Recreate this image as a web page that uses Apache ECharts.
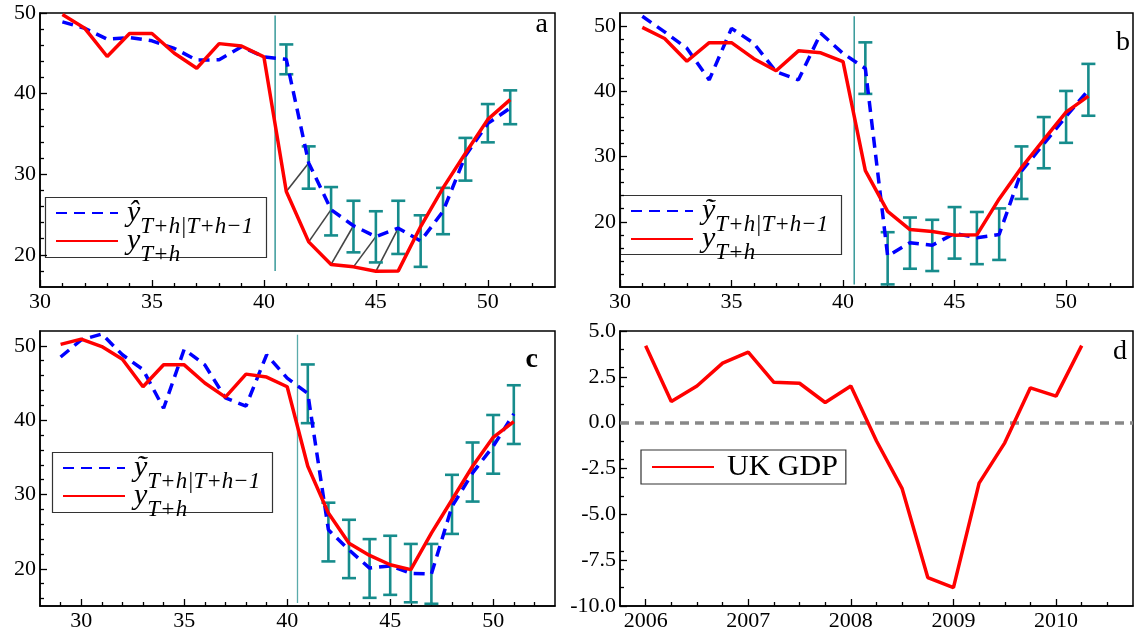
<!DOCTYPE html>
<html><head><meta charset="utf-8">
<script src="https://cdn.jsdelivr.net/npm/echarts@6/dist/echarts.min.js"></script>
<style>html,body{margin:0;padding:0;background:#fff}#c{width:1137px;height:637px}</style>
</head><body><div id="c"></div>
<script>
// ---------- data ----------
const xAB = [31,32,33,34,35,36,37,38,39,40,41,42,43,44,45,46,47,48,49,50,51];
const actualAB = [49.8,48.1,44.6,47.45,47.45,45.0,43.15,46.2,45.9,44.55,27.85,21.6,18.8,18.5,17.95,18.0,23.5,28.3,32.6,36.8,39.25];
const forecastA = [48.9,48.1,46.75,46.95,46.55,45.6,44.15,44.2,45.8,44.55,44.25,31.4,25.6,23.6,22.25,23.3,21.7,25.4,32.3,36.3,38.2];
const forecastB = [51.5,49.1,46.6,41.75,49.65,47.35,43.0,41.75,48.9,45.8,43.5,14.75,16.8,16.4,18.2,17.55,18.05,27.75,31.95,36.15,40.2];

const xC = [29,30,31,32,33,34,35,36,37,38,39,40,41,42,43,44,45,46,47,48,49,50,51];
const actualC = [50.2,50.9,49.9,48.2,44.5,47.45,47.45,45.0,43.1,46.2,45.8,44.5,33.8,27.5,23.45,21.8,20.55,19.9,24.8,29.3,33.8,37.7,39.8];
const forecastC = [48.5,50.8,51.6,48.8,46.8,41.6,49.55,47.45,43.0,41.9,48.8,45.65,43.6,25.25,22.55,20.1,20.4,19.4,19.3,28.4,32.9,36.5,40.85];

const errX = [41,42,43,44,45,46,47,48,49,50,51];
const errLowA  = [42.4,28.2,22.4,20.3,19.05,20.1,18.5,22.55,29.2,33.95,36.2];
const errHighA = [46.1,33.45,28.4,26.7,25.4,26.7,24.9,28.3,34.5,38.7,40.4];
const errLowB  = [39.6,10.4,12.8,12.45,14.35,13.5,14.15,23.5,28.2,32.1,36.25];
const errHighB = [47.5,18.4,20.65,20.3,22.25,21.5,22.05,31.55,36.05,40.05,44.2];
const errLowC  = [39.6,21.0,18.75,16.1,16.5,15.5,15.3,24.7,29.05,32.8,36.8];
const errHighC = [47.5,28.9,26.6,24.0,24.45,23.35,23.35,32.65,37.0,40.7,44.7];

// origin of the forecast period and the extent of its marker line
const originX = 40.5;
const vlineA = [18.0, 49.7];
const vlineB = [10.4, 51.5];
const vlineC = [15.4, 51.5];
// segments joining y(T+h) to the next forecast in panel a
const segStartA = [41,42,43,44,45];

const gdpX = [2006,2006.25,2006.5,2006.75,2007,2007.25,2007.5,2007.75,2008,2008.25,2008.5,2008.75,2009,2009.25,2009.5,2009.75,2010,2010.25];
const gdp = [4.2,1.15,2.0,3.25,3.85,2.2,2.15,1.1,2.0,-1.0,-3.6,-8.45,-9.0,-3.3,-1.1,1.9,1.45,4.2];

// tick labels
const xLabelsAB = [30,35,40,45,50];
const xLabelsC = [30,35,40,45,50];
const yLabelsABC = [20,30,40,50];
const xLabelsD = [2006,2007,2008,2009,2010];
const yLabelsD = [-10,-7.5,-5,-2.5,0,2.5,5];

// ---------- style ----------
const FONT = 'Liberation Serif';
const BLUE = '#0000ff', RED = '#ff0000', TEAL = '#168c8c', GRAY = '#444444';
const NAME_HAT = 'ŷ T+h|T+h−1', NAME_TIL = 'ỹ T+h|T+h−1', NAME_Y = 'y T+h', NAME_GDP = 'UK GDP';

function steps(a, b, s) { const r = []; for (let v = a; v <= b + 1e-9; v += s) r.push(+v.toFixed(4)); return r; }
function minus(arr, ex) { return arr.filter(v => !ex.some(e => Math.abs(e - v) < 1e-9)); }

const grids = [
  {left:40, top:13, width:515, height:274},
  {left:620, top:13, width:513, height:274},
  {left:40, top:331, width:515, height:275},
  {left:620, top:331, width:513, height:275}
].map(g => Object.assign(g, {show:true, borderColor:'#000', borderWidth:1.5, backgroundColor:'transparent'}));

const xAxes = [], yAxes = [];
function addAxes(gi, xr, xlab, xminor, yr, ylab, yminor, yfmt) {
  const common = {gridIndex:gi, type:'value', splitLine:{show:false}};
  xAxes.push(Object.assign({}, common, {min:xr[0], max:xr[1], position:'bottom',
    axisLine:{onZero:false, lineStyle:{color:'#000', width:1.5}},
    axisTick:{inside:true, length:7, customValues:xlab, lineStyle:{color:'#000', width:1.3}},
    axisLabel:{customValues:xlab, fontFamily:FONT, fontSize:22, color:'#000', margin:4, formatter: v => String(v)}}));
  xAxes.push(Object.assign({}, common, {min:xr[0], max:xr[1], position:'bottom',
    axisLine:{show:false, onZero:false},
    axisTick:{inside:true, length:4, customValues:xminor, lineStyle:{color:'#000', width:1.3}},
    axisLabel:{show:false}}));
  yAxes.push(Object.assign({}, common, {min:yr[0], max:yr[1], position:'left',
    axisLine:{onZero:false, lineStyle:{color:'#000', width:1.5}},
    axisTick:{inside:true, length:7, customValues:ylab, lineStyle:{color:'#000', width:1.3}},
    axisLabel:{customValues:ylab, fontFamily:FONT, fontSize:22, color:'#000', margin:4,
      formatter: yfmt || (v => String(v))}}));
  yAxes.push(Object.assign({}, common, {min:yr[0], max:yr[1], position:'left',
    axisLine:{show:false, onZero:false},
    axisTick:{inside:true, length:4, customValues:yminor, lineStyle:{color:'#000', width:1.3}},
    axisLabel:{show:false}}));
}
addAxes(0, [30,53], xLabelsAB, minus(steps(31,52,1), xLabelsAB), [16,50], yLabelsABC, minus(steps(18,48,2), yLabelsABC));
addAxes(1, [30,53], xLabelsAB, minus(steps(31,52,1), xLabelsAB), [10,52], yLabelsABC, minus(steps(12,50,2), yLabelsABC));
addAxes(2, [28,53], xLabelsC, minus(steps(29,52,1), xLabelsC), [15,52], yLabelsABC, minus(steps(16,50,2), yLabelsABC));
addAxes(3, [2005.75,2010.75], xLabelsD, minus(steps(2006.25,2010.5,0.25), xLabelsD), [-10,5], yLabelsD,
  minus(steps(-9,4,1), yLabelsD), v => v.toFixed(1));

function line(name, xs, ys, gi, color, width, dash, z) {
  return {type:'line', name, xAxisIndex:gi*2, yAxisIndex:gi*2, data: xs.map((x,i) => [x, ys[i]]),
    symbol:'none', showSymbol:false, smooth:false, z: z || 3, silent:true,
    lineStyle:{color, width, type: dash || 'solid'}, itemStyle:{color}};
}
function errRender(params, api) {
  const x = api.value(0), lo = api.value(1), hi = api.value(2);
  const p1 = api.coord([x, hi]), p2 = api.coord([x, lo]);
  const w = 7, st = {stroke: TEAL, lineWidth: 2.6};
  return {type:'group', children:[
    {type:'line', shape:{x1:p1[0], y1:p1[1], x2:p2[0], y2:p2[1]}, style:st},
    {type:'line', shape:{x1:p1[0]-w, y1:p1[1], x2:p1[0]+w, y2:p1[1]}, style:st},
    {type:'line', shape:{x1:p2[0]-w, y1:p2[1], x2:p2[0]+w, y2:p2[1]}, style:st}
  ]};
}
function errSeries(name, lo, hi, gi) {
  return {type:'custom', name, xAxisIndex:gi*2, yAxisIndex:gi*2, renderItem: errRender, silent:true, z:2,
    encode:{x:0, y:[1,2]}, data: errX.map((x,i) => [x, lo[i], hi[i]])};
}
function vline(name, ext, gi, color) {
  return {type:'line', name, xAxisIndex:gi*2, yAxisIndex:gi*2, symbol:'none', silent:true, z:1,
    data:[[originX, ext[0]], [originX, ext[1]]], lineStyle:{color, width:1.3}};
}
const segSeries = {type:'custom', name:'segA', xAxisIndex:0, yAxisIndex:0, silent:true, z:1,
  encode:{x:[0,2], y:[1,3]},
  data: segStartA.map(x => { const i = xAB.indexOf(x); return [x, actualAB[i], xAB[i+1], forecastA[i+1]]; }),
  renderItem: (p, api) => {
    const a = api.coord([api.value(0), api.value(1)]), b = api.coord([api.value(2), api.value(3)]);
    return {type:'line', shape:{x1:a[0], y1:a[1], x2:b[0], y2:b[1]}, style:{stroke:GRAY, lineWidth:1.6}};
  }};

const DASH = [11, 7];
const series = [
  vline('originA', vlineA, 0, '#1a8a8a'), segSeries, errSeries('errA', errLowA, errHighA, 0),
  line(NAME_HAT, xAB, forecastA, 0, BLUE, 3.5, DASH), line(NAME_Y, xAB, actualAB, 0, RED, 3.5),
  vline('originB', vlineB, 1, '#1a8a8a'), errSeries('errB', errLowB, errHighB, 1),
  line(NAME_TIL, xAB, forecastB, 1, BLUE, 3.5, DASH), line(NAME_Y, xAB, actualAB, 1, RED, 3.5),
  vline('originC', vlineC, 2, '#5aabab'), errSeries('errC', errLowC, errHighC, 2),
  line(NAME_TIL, xC, forecastC, 2, BLUE, 3.5, DASH), line(NAME_Y, xC, actualC, 2, RED, 3.5),
  Object.assign(line(NAME_GDP, gdpX, gdp, 3, RED, 3.5), {
    markLine:{symbol:'none', silent:true, z:1, label:{show:false}, animation:false,
      lineStyle:{color:'#888', type:[9,6], width:3.5}, data:[{yAxis:0}]}})
];

const rich = {
  m:{fontFamily:FONT, fontStyle:'italic', fontSize:30, lineHeight:30, color:'#000', verticalAlign:'top'},
  s:{fontFamily:FONT, fontStyle:'italic', fontSize:23, lineHeight:30, color:'#000', verticalAlign:'top', padding:[17,0,0,0]}
};
function mathFmt(name) {
  if (name === NAME_HAT) return '{m|ŷ}{s|T+h|T+h−1}';
  if (name === NAME_TIL) return '{m|ỹ}{s|T+h|T+h−1}';
  if (name === NAME_Y) return '{m|y}{s|T+h}';
  return name;
}
const noSymbol = {opacity:0, color:'transparent', borderWidth:0};
// legend boxes are drawn as frames (subscripts overflow the frame as in the original)
function mathLegend(left, top, first) {
  return {left, top, orient:'vertical', data:[first, NAME_Y], itemWidth:62, itemHeight:14, itemGap:-12,
    padding:0, selectedMode:false, itemStyle: noSymbol, formatter: mathFmt, textStyle:{rich, padding:[0,0,0,4]}};
}
const legends = [
  mathLegend(55, 198, NAME_HAT),
  mathLegend(630, 196, NAME_TIL),
  mathLegend(62, 453, NAME_TIL),
  {left:641, top:450, data:[NAME_GDP], itemWidth:62, itemHeight:14, padding:[2,8,2,10], selectedMode:false,
    borderColor:'#333', borderWidth:1.2, backgroundColor:'#fff', itemStyle: noSymbol,
    textStyle:{fontFamily:FONT, fontSize:30, color:'#000', padding:[0,0,0,8]}}
];
function frame(x, y, w, h) {
  return {type:'rect', silent:true, z:0, shape:{x, y, width:w, height:h}, style:{fill:'#fff', stroke:'#333', lineWidth:1.2}};
}
function letter(t, x, y, bold) {
  return {type:'text', x, y, silent:true, style:{text:t, fill:'#000', align:'right', verticalAlign:'bottom',
    font:(bold ? 'bold ' : '') + '28px "' + FONT + '"'}};
}

const chart = echarts.init(document.getElementById('c'), null, {renderer:'canvas'});
chart.setOption({
  animation:false, backgroundColor:'#fff',
  grid: grids, xAxis: xAxes, yAxis: yAxes, legend: legends, series,
  graphic: [frame(45.5, 197.5, 221, 60), frame(620.5, 195.5, 221, 59), frame(52.5, 452.5, 220, 60),
    letter('a', 548, 39), letter('b', 1130, 57), letter('c', 538, 374, true), letter('d', 1127, 366)]
});
</script></body></html>
